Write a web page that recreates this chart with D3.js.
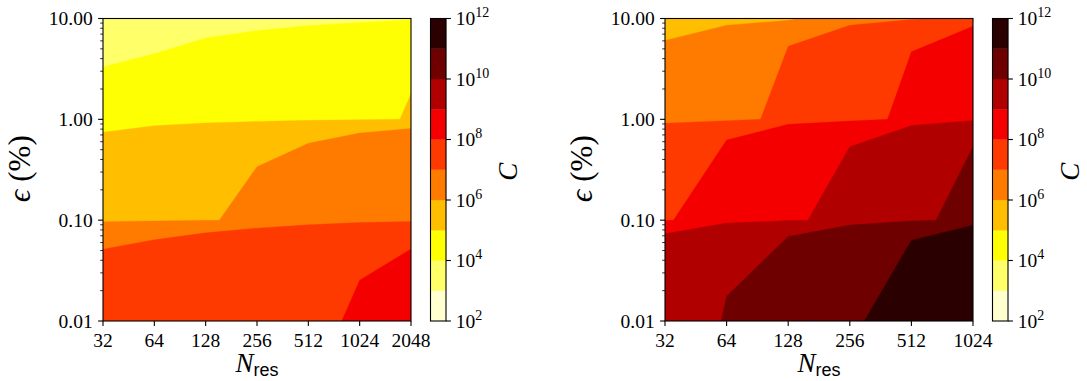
<!DOCTYPE html>
<html>
<head>
<meta charset="utf-8">
<script src="https://cdn.jsdelivr.net/npm/d3@7"></script>
<style>
  html, body { margin: 0; padding: 0; background: #ffffff; }
  svg { display: block; }
  text { fill: #000; }
</style>
</head>
<body>
<svg id="fig" width="1087" height="381"></svg>
<script>
// Tolerance epsilon (%) rows and resolution columns of the cost grid
const epsValues = [0.01, 0.1, 1, 10];
const nResLeft = [32, 64, 128, 256, 512, 1024, 2048];
const nResRight = [32, 64, 128, 256, 512, 1024];

// Cost C, one array per epsilon row (columns follow N_res)
const costLeftEps001 = [1.83e7, 2.40e7, 3.34e7, 4.80e7, 7.35e7, 1.20e8, 1.83e8];
const costLeftEps01  = [3.17e5, 5.79e5, 9.11e5, 1.35e6, 2.08e6, 3.17e6, 4.40e6];
const costLeftEps1   = [1.31e4, 1.56e4, 2.32e4, 3.31e4, 4.85e4, 7.67e4, 1.09e5];
const costLeftEps10  = [1.0e3, 1.1e3, 1.3e3, 1.6e3, 2.0e3, 2.9e3, 6.6e3];

const costRightEps001 = [3.18e9, 1.09e10, 2.77e10, 7.10e10, 2.35e11, 6.83e11];
const costRightEps01  = [8.51e7, 2.36e8, 7.00e8, 1.91e9, 5.81e9, 1.89e10];
const costRightEps1   = [2.02e6, 2.20e6, 1.90e7, 2.70e7, 1.65e8, 4.50e8];
const costRightEps10  = [2.0e5, 7.75e5, 1.5e5, 6.8e6, 5.85e6, 2.37e7];

// Contour levels 10^2 ... 10^12 and tick labels
const levelExponents = [2, 3, 4, 5, 6, 7, 8, 9, 10, 11, 12];
const colorbarTickExponents = [2, 4, 6, 8, 10, 12];
const yTickValues = [0.01, 0.1, 1, 10];
const yTickLabels = ["0.01", "0.10", "1.00", "10.00"];

// hot_r colours for the ten bands (lowest band first)
const bandColors = ["#ffffd0", "#ffff69", "#ffff03", "#ffbf00", "#ff7b00",
                    "#ff3a00", "#f40000", "#b00000", "#6e0000", "#2a0000"];

const svg = d3.select("#fig");
const SERIF = "'Liberation Serif', 'DejaVu Serif', serif";
const SANS = "'Liberation Sans', 'DejaVu Sans', sans-serif";
const TICK_FS = 19.5;
const LABEL_FS = 27;
const MAJOR = 4.9, MINOR = 2.8, PAD = 4.9, LW = 1.1;

const plotTop = 18.5, plotBottom = 321;
const levels = levelExponents.map(e => Math.pow(10, e));

const panels = [
  { id: "a", x0: 103, x1: 411, cb0: 430.5, cb1: 446, nRes: nResLeft,
    rows: [costLeftEps001, costLeftEps01, costLeftEps1, costLeftEps10] },
  { id: "b", x0: 665, x1: 973, cb0: 992.5, cb1: 1008, nRes: nResRight,
    rows: [costRightEps001, costRightEps01, costRightEps1, costRightEps10] }
];

// position inside the value grid (d3.contours puts sample i at i + 0.5) -> data value
function gridToData(g, arr) {
  const last = arr.length - 1;
  const t = Math.max(0, Math.min(last, g - 0.5));
  const i = Math.min(Math.floor(t), last - 1);
  const f = t - i;
  return arr[i] + f * (arr[i + 1] - arr[i]);
}

panels.forEach(p => {
  const x = d3.scaleLog().base(2).domain([p.nRes[0], p.nRes[p.nRes.length - 1]]).range([p.x0, p.x1]);
  const y = d3.scaleLog().domain([0.01, 10]).range([plotBottom, plotTop]);

  const g = svg.append("g");
  g.append("clipPath").attr("id", "clip-" + p.id)
    .append("rect").attr("x", p.x0).attr("y", plotTop)
    .attr("width", p.x1 - p.x0).attr("height", plotBottom - plotTop);

  // filled contours
  const nx = p.nRes.length, ny = epsValues.length;
  const values = [];
  p.rows.forEach(r => r.forEach(v => values.push(v)));
  const contours = d3.contours().size([nx, ny]).thresholds(levels.slice(0, -1))(values);

  const proj = d3.geoTransform({
    point(px, py) {
      this.stream.point(x(gridToData(px, p.nRes)), y(gridToData(py, epsValues)));
    }
  });
  const path = d3.geoPath(proj);

  g.append("g").attr("clip-path", "url(#clip-" + p.id + ")")
    .selectAll("path").data(contours).join("path")
    .attr("d", path)
    .attr("fill", d => bandColors[levels.indexOf(d.value)])
    .attr("stroke", d => bandColors[levels.indexOf(d.value)])
    .attr("stroke-width", 0.3);

  // frame
  g.append("rect").attr("x", p.x0).attr("y", plotTop)
    .attr("width", p.x1 - p.x0).attr("height", plotBottom - plotTop)
    .attr("fill", "none").attr("stroke", "#000").attr("stroke-width", LW);

  // x axis ticks and labels
  p.nRes.forEach(n => {
    const xx = x(n);
    g.append("line").attr("x1", xx).attr("x2", xx)
      .attr("y1", plotBottom).attr("y2", plotBottom + MAJOR)
      .attr("stroke", "#000").attr("stroke-width", LW);
    g.append("text").attr("x", xx).attr("y", 347)
      .attr("text-anchor", "middle").attr("font-family", SERIF)
      .attr("font-size", TICK_FS).text(String(n));
  });

  // y axis major ticks and labels
  yTickValues.forEach((v, i) => {
    const yy = y(v);
    g.append("line").attr("x1", p.x0 - MAJOR).attr("x2", p.x0)
      .attr("y1", yy).attr("y2", yy).attr("stroke", "#000").attr("stroke-width", LW);
    g.append("text").attr("x", p.x0 - MAJOR - PAD - 0.5).attr("y", yy + 6.5)
      .attr("text-anchor", "end").attr("font-family", SERIF)
      .attr("font-size", TICK_FS).text(yTickLabels[i]);
  });
  // y axis minor ticks
  [0.01, 0.1, 1].forEach(dec => {
    for (let k = 2; k <= 9; k++) {
      const yy = y(dec * k);
      g.append("line").attr("x1", p.x0 - MINOR).attr("x2", p.x0)
        .attr("y1", yy).attr("y2", yy).attr("stroke", "#000").attr("stroke-width", 0.8);
    }
  });

  // axis labels
  const xl = g.append("text").attr("x", (p.x0 + p.x1) / 2).attr("y", 372)
    .attr("text-anchor", "middle").attr("font-family", SERIF).attr("font-size", LABEL_FS);
  xl.append("tspan").attr("font-style", "italic").text("N");
  xl.append("tspan").attr("font-family", SANS).attr("font-size", 18).attr("dy", 3.5).text("res");

  const yl = g.append("text")
    .attr("transform", `translate(${p.x0 - 73},${(plotTop + plotBottom) / 2 - 1}) rotate(-90)`)
    .attr("text-anchor", "middle").attr("font-family", SERIF).attr("font-size", 31);
  yl.append("tspan").attr("font-style", "italic").text("ϵ");
  yl.append("tspan").attr("dx", 8).text("(%)");

  // colorbar
  const cy = d3.scaleLog().domain([levels[0], levels[levels.length - 1]]).range([plotBottom, plotTop]);
  const cb = g.append("g");
  cb.selectAll("rect.band").data(levels.slice(0, -1)).join("rect")
    .attr("class", "band")
    .attr("x", p.cb0).attr("width", p.cb1 - p.cb0)
    .attr("y", (d, i) => cy(levels[i + 1]))
    .attr("height", (d, i) => cy(d) - cy(levels[i + 1]))
    .attr("fill", (d, i) => bandColors[i])
    .attr("stroke", (d, i) => bandColors[i]).attr("stroke-width", 0.3);
  cb.append("rect").attr("x", p.cb0).attr("y", plotTop)
    .attr("width", p.cb1 - p.cb0).attr("height", plotBottom - plotTop)
    .attr("fill", "none").attr("stroke", "#000").attr("stroke-width", LW);
  colorbarTickExponents.forEach(e => {
    const yy = cy(Math.pow(10, e));
    cb.append("line").attr("x1", p.cb1).attr("x2", p.cb1 + MAJOR)
      .attr("y1", yy).attr("y2", yy).attr("stroke", "#000").attr("stroke-width", LW);
    const t = cb.append("text").attr("x", p.cb1 + MAJOR + PAD).attr("y", yy + 6.5)
      .attr("font-family", SERIF).attr("font-size", TICK_FS);
    t.append("tspan").text("10");
    t.append("tspan").attr("font-size", 14).attr("dy", -8).text(String(e));
  });
  cb.append("text")
    .attr("transform", `translate(${p.cb1 + 71},${(plotTop + plotBottom) / 2 + 2}) rotate(-90)`)
    .attr("text-anchor", "middle").attr("font-family", SERIF)
    .attr("font-style", "italic").attr("font-size", LABEL_FS).text("C");
});
</script>
</body>
</html>
